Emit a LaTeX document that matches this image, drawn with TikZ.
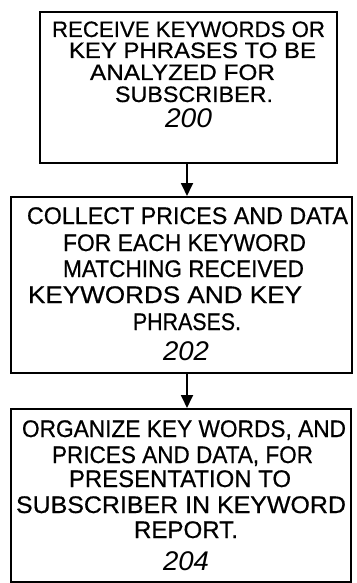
\documentclass[tikz,border=0pt]{standalone}
\usepackage{fontspec}
\usepackage{graphicx}
\setmainfont{Liberation Sans}
\newfontfamily\capfont{Liberation Sans}[FakeBold=0.6]
\usetikzlibrary{arrows.meta}
\newcommand\tline[6]{\node[tl,anchor=base west,font=#6] (#1) at (#2,#3) {\resizebox{#4pt}{\height}{#5}};}
\begin{document}
\begin{tikzpicture}[x=1pt,y=-1pt,
  box/.style={draw=black,line width=2pt,inner sep=0pt},
  tl/.style={inner sep=0pt,outer sep=0pt},
  conn/.style={line width=1.8pt,-{Triangle[length=13pt,width=12pt]}}]
\def\fa{\capfont\fontsize{22.3}{22}\selectfont}
\def\fb{\capfont\fontsize{24}{24}\selectfont}
\def\fn{\fontsize{27}{27}\selectfont\itshape}
\useasboundingbox (0,0) rectangle (356,583);
% boxes
\node[box,line width=2.5pt,minimum width=297pt,minimum height=151pt] (b1) at (188.5,87.5) {};
\node[box,minimum width=341pt,minimum height=176pt] (b2) at (181.5,285) {};
\node[box,minimum width=340pt,minimum height=173pt] (b3) at (181,495.5) {};
% box 1 text
\tline{t1a}{52}{37}{273}{RECEIVE KEYWORDS OR}{\fa}
\tline{t1b}{69}{58}{247}{KEY PHRASES TO BE}{\fa}
\tline{t1c}{90}{80}{185}{ANALYZED FOR}{\fa}
\tline{t1d}{115}{102}{158}{SUBSCRIBER.}{\fa}
\tline{t1n}{165}{127}{47}{200}{\fn}
% box 2 text
\tline{t2a}{27}{224}{321}{COLLECT PRICES AND DATA}{\fb}
\tline{t2b}{63}{251}{243}{FOR EACH KEYWORD}{\fb}
\tline{t2c}{63}{277}{241}{MATCHING RECEIVED}{\fb}
\tline{t2d}{28}{303}{274}{KEYWORDS AND KEY}{\fb}
\tline{t2e}{133}{330}{108}{PHRASES.}{\fb}
\tline{t2n}{163}{360}{46}{202}{\fn}
% box 3 text
\tline{t3a}{22}{437}{324}{ORGANIZE KEY WORDS, AND}{\fb}
\tline{t3b}{52}{463}{261}{PRICES AND DATA, FOR}{\fb}
\tline{t3c}{69}{487}{222}{PRESENTATION TO}{\fb}
\tline{t3d}{16}{513}{330}{SUBSCRIBER IN KEYWORD}{\fb}
\tline{t3e}{134}{538}{104}{REPORT.}{\fb}
\tline{t3n}{163}{570}{46}{204}{\fn}
% connectors
\coordinate (ax) at (187,0);
\draw[conn] (b1.south -| ax) -- (b2.north -| ax);
\draw[conn] (b2.south -| ax) -- (b3.north -| ax);
\end{tikzpicture}
\end{document}
